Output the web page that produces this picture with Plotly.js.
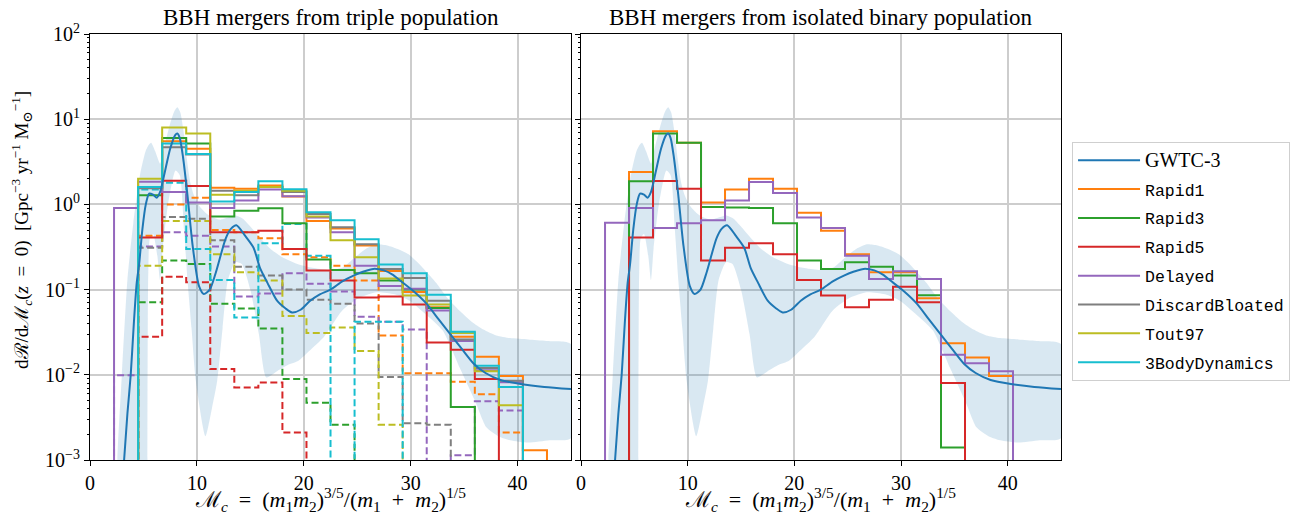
<!DOCTYPE html>
<html>
<head>
<meta charset="utf-8">
<script src="https://cdn.plot.ly/plotly-3.0.1.min.js"></script>
<style>
  html, body { margin: 0; padding: 0; background: #ffffff; }
  #chart { width: 1291px; height: 517px; }
</style>
</head>
<body>
<div id="chart"></div>
<script>
// ---------------- data ----------------
const binEdges = [0, 2.25, 4.5, 6.75, 9, 11.25, 13.5, 15.75, 18, 20.25, 22.5, 24.75, 27, 29.25, 31.5, 33.75, 36, 38.25, 40.5, 42.75, 45];

const seriesNames = ["Rapid1", "Rapid3", "Rapid5", "Delayed", "DiscardBloated", "Tout97", "3BodyDynamics"];

// triple population: solid histograms
const tripleRapid1   = [0, 0, 1.6, 5.5, 4.5, 1.57, 1.53, 1.67, 1.24, 0.64, 0.52, 0.33, 0.165, 0.094, 0.062, 0.028, 0.0163, 0.0097, 0.0013, 0];
const tripleRapid3   = [0, 0, 1.28, 6.0, 5.2, 0.72, 0.84, 0.9, 0.6, 0.225, 0.17, 0.156, 0.128, 0.1, 0.061, 0.0042, 0, 0, 0, 0];
const tripleRapid5   = [0, 0, 0.41, 1.9, 1.64, 0.47, 0.47, 0.49, 0.30, 0.168, 0.128, 0.081, 0.083, 0.067, 0.024, 0.0197, 0.0089, 0, 0, 0];
const tripleDelayed  = [0, 0.91, 1.85, 1.4, 1.05, 0.91, 1.11, 1.5, 1.25, 0.7, 0.47, 0.19, 0.11, 0.102, 0.057, 0.025, 0.0113, 0.0082, 0, 0];
const tripleDiscard  = [0, 0, 1.55, 4.7, 3.85, 1.45, 1.28, 1.6, 1.4, 0.77, 0.54, 0.34, 0.175, 0.137, 0.074, 0.026, 0.012, 0.0085, 0, 0];
const tripleTout97   = [0, 0, 2.0, 8.0, 6.8, 1.3, 1.45, 1.6, 1.45, 0.72, 0.38, 0.24, 0.135, 0.085, 0.067, 0.031, 0.011, 0.0044, 0, 0];
const triple3Body    = [0, 0, 1.6, 5.2, 3.9, 1.08, 1.4, 1.87, 1.51, 0.81, 0.65, 0.39, 0.197, 0.156, 0.087, 0.032, 0.0128, 0.0072, 0, 0];

// triple population: dashed histograms
const tripleSubRapid1  = [0, 0, 0.43, 1.0, 1.2, 0.5, 0.47, 0.4, 0.26, 0.24, 0.19, 0.128, 0.029, 0.0104, 0.0104, 0.0083, 0.0059, 0.0021, 0, 0];
const tripleSubRapid3  = [0, 0, 0.071, 0.22, 0.2, 0.068, 0.06, 0.035, 0.0089, 0.0047, 0.0026, 0, 0, 0, 0, 0, 0, 0, 0, 0];
const tripleSubRapid5  = [0, 0, 0.028, 0.142, 0.122, 0.0117, 0.0071, 0.0081, 0.0021, 0, 0, 0, 0, 0, 0, 0, 0, 0, 0, 0];
const tripleSubDelayed = [0, 0.0099, 0.32, 0.47, 0.43, 0.32, 0.083, 0.09, 0.156, 0.117, 0.095, 0.048, 0.042, 0.034, 0, 0.00114, 0.0049, 0.0038, 0, 0];
const tripleSubDiscard = [0, 0, 0.31, 0.71, 0.68, 0.38, 0.186, 0.146, 0.1, 0.076, 0.068, 0.04, 0.0094, 0.0027, 0.0026, 0, 0, 0, 0, 0];
const tripleSubTout97  = [0, 0, 0.19, 0.64, 0.64, 0.26, 0.16, 0.128, 0.049, 0.031, 0.036, 0.019, 0.0026, 0, 0, 0, 0, 0, 0, 0];
const tripleSub3Body   = [0, 0, 1.5, 1.8, 0.3, 0.13, 0.047, 0.35, 0.59, 0.25, 0, 0.042, 0.042, 0, 0, 0, 0, 0, 0, 0];

// isolated binary population
const isoRapid1  = [0, 0, 2.4, 7.2, 5.3, 1.05, 1.5, 2.0, 1.53, 0.8, 0.49, 0.26, 0.16, 0.16, 0.079, 0.0234, 0.016, 0.0097, 0, 0];
const isoRapid3  = [0, 0, 1.87, 6.8, 5.3, 0.93, 0.92, 0.91, 0.6, 0.22, 0.175, 0.21, 0.186, 0.146, 0.086, 0.0014, 0, 0, 0, 0];
const isoRapid5  = [0, 0, 0.41, 1.88, 1.53, 0.22, 0.31, 0.35, 0.26, 0.13, 0.085, 0.062, 0.076, 0.108, 0.071, 0.008, 0, 0, 0, 0];
const isoDelayed = [0, 0.61, 0.91, 0.53, 0.6, 0.65, 1.11, 1.83, 1.36, 0.7, 0.53, 0.25, 0.133, 0.164, 0.133, 0.0172, 0.0137, 0.011, 0, 0];

// GWTC-3 median and 90% band
const gwtcX = [3.19, 3.5, 3.81, 4.1, 4.37, 4.6, 4.9, 5.22, 5.53, 5.9, 6.25, 6.56, 7.0, 7.5, 7.97, 8.17, 8.4, 8.7, 9.12, 9.6, 10.2, 10.65, 11.2, 11.78, 12.7, 13.2, 13.7, 14.5, 15.3, 15.9, 16.6, 17.5, 18.3, 18.9, 19.7, 20.6, 21.5, 22.5, 23.6, 24.65, 25.6, 26.5, 27.5, 28.3, 29.0, 30.3, 31.5, 32.6, 33.7, 34.8, 35.9, 37.0, 38.4, 40.3, 42.5, 45.0];
const gwtcY = [0.001, 0.0035, 0.01, 0.04, 0.12, 0.2, 0.51, 1.0, 1.34, 1.3, 1.2, 1.4, 2.4, 4.5, 6.5, 6.8, 6.0, 3.6, 1.28, 0.33, 0.11, 0.089, 0.1, 0.16, 0.4, 0.52, 0.57, 0.43, 0.31, 0.18, 0.12, 0.074, 0.06, 0.054, 0.058, 0.074, 0.088, 0.1, 0.125, 0.146, 0.163, 0.175, 0.168, 0.15, 0.128, 0.095, 0.068, 0.045, 0.03, 0.02, 0.0135, 0.0105, 0.0087, 0.0078, 0.0072, 0.0068];

const bandUpperX = [2.4, 2.56, 2.98, 3.5, 4.05, 4.7, 5.2, 5.5, 5.72, 6.1, 6.56, 6.9, 7.5, 7.9, 8.17, 8.45, 8.8, 9.05, 9.35, 9.7, 10.2, 10.8, 11.5, 12.2, 12.9, 13.6, 14.3, 15.0, 15.8, 16.9, 18.0, 19.4, 20.8, 22.3, 23.6, 24.8, 25.8, 26.8, 27.8, 28.8, 29.8, 30.8, 31.7, 32.5, 33.5, 34.6, 35.7, 36.8, 38.0, 39.3, 41.0, 42.7, 45.0];
const bandUpperY = [0.00001, 0.001, 0.01, 0.13, 0.6, 2.3, 4.2, 5.0, 5.3, 4.2, 3.0, 4.5, 8.9, 12.5, 13.8, 12.0, 6.5, 3.5, 1.9, 1.3, 0.97, 0.8, 0.7, 0.66, 0.7, 0.74, 0.68, 0.55, 0.42, 0.3, 0.24, 0.2, 0.18, 0.17, 0.18, 0.24, 0.3, 0.34, 0.33, 0.3, 0.26, 0.2, 0.15, 0.115, 0.078, 0.056, 0.042, 0.034, 0.029, 0.027, 0.026, 0.025, 0.023];
const bandLowerX = [2.4, 5.3, 5.38, 5.45, 5.6, 5.9, 6.3, 6.56, 6.8, 7.3, 8.0, 8.4, 8.8, 9.12, 9.5, 9.9, 10.8, 11.4, 11.9, 12.4, 12.9, 13.6, 14.2, 15.0, 15.8, 16.5, 17.5, 18.5, 19.5, 20.5, 21.9, 23.6, 25.2, 26.8, 28.5, 29.9, 31.5, 33.0, 34.6, 36.0, 37.1, 38.2, 39.3, 41.0, 43.0, 45.0];
const bandLowerY = [0.00001, 0.00001, 0.001, 0.15, 0.4, 0.45, 0.25, 0.13, 0.3, 1.0, 2.5, 2.2, 0.5, 0.13, 0.035, 0.0085, 0.0019, 0.004, 0.0085, 0.035, 0.13, 0.21, 0.2, 0.1, 0.03, 0.0093, 0.011, 0.013, 0.0146, 0.019, 0.028, 0.057, 0.08, 0.093, 0.088, 0.074, 0.05, 0.033, 0.012, 0.005, 0.0024, 0.0019, 0.0017, 0.0016, 0.0017, 0.0018];

const yTickVals = [0.001, 0.01, 0.1, 1, 10, 100];
const yTickText = ["10<sup>−3</sup>", "10<sup>−2</sup>", "10<sup>−1</sup>", "10<sup>0</sup>", "10<sup>1</sup>", "10<sup>2</sup>"];
const xTickVals = [0, 10, 20, 30, 40];

// ---------------- drawing ----------------
const colors = {
  GWTC: "#1f77b4", Rapid1: "#ff7f0e", Rapid3: "#2ca02c", Rapid5: "#d62728",
  Delayed: "#9467bd", DiscardBloated: "#7f7f7f", Tout97: "#bcbd22", "3BodyDynamics": "#17becf"
};
const FLOOR = 1e-6;

function stepTrace(vals, color, dashed, xa, ya, name, showLegend, rank) {
  const x = [], y = [];
  for (let i = 0; i < vals.length; i++) {
    x.push(binEdges[i]);
    y.push(vals[i] > 0 ? vals[i] : FLOOR);
  }
  x.push(binEdges[binEdges.length - 1]);
  y.push(FLOOR);
  return {
    type: "scatter", mode: "lines", x: x, y: y, xaxis: xa, yaxis: ya,
    line: { shape: "hv", color: color, width: 2, dash: dashed ? "7px,3.5px" : "solid" },
    name: name, showlegend: showLegend, legendrank: rank, legendgroup: name,
    hoverinfo: "skip"
  };
}

function bandTrace(xa, ya) {
  const x = bandUpperX.concat(bandLowerX.slice().reverse());
  const y = bandUpperY.concat(bandLowerY.slice().reverse());
  return {
    type: "scatter", mode: "lines", x: x, y: y, xaxis: xa, yaxis: ya,
    fill: "toself", fillcolor: "rgba(31,119,180,0.17)",
    line: { width: 0, shape: "spline", smoothing: 0.6 },
    showlegend: false, hoverinfo: "skip"
  };
}

function curveTrace(xa, ya, showLegend) {
  return {
    type: "scatter", mode: "lines", x: gwtcX, y: gwtcY, xaxis: xa, yaxis: ya,
    line: { color: colors.GWTC, width: 2, shape: "spline", smoothing: 0.7 },
    name: '<span style="font-family:\'Liberation Serif\', serif; font-size:20px">GWTC-3</span>',
    showlegend: showLegend, legendrank: 1, legendgroup: "GWTC-3", hoverinfo: "skip"
  };
}

const tripleSolid = [tripleRapid1, tripleRapid3, tripleRapid5, tripleDelayed, tripleDiscard, tripleTout97, triple3Body];
const tripleDashed = [tripleSubRapid1, tripleSubRapid3, tripleSubRapid5, tripleSubDelayed, tripleSubDiscard, tripleSubTout97, tripleSub3Body];
const isoSolid = [isoRapid1, isoRapid3, isoRapid5, isoDelayed];

const traces = [];
traces.push(bandTrace("x", "y"));
traces.push(bandTrace("x2", "y2"));
tripleDashed.forEach((v, k) => traces.push(stepTrace(v, colors[seriesNames[k]], true, "x", "y", seriesNames[k] + " sub", false, 100)));
tripleSolid.forEach((v, k) => traces.push(stepTrace(v, colors[seriesNames[k]], false, "x", "y", seriesNames[k], true, k + 2)));
isoSolid.forEach((v, k) => traces.push(stepTrace(v, colors[seriesNames[k]], false, "x2", "y2", seriesNames[k], false, 100)));
traces.push(curveTrace("x", "y", true));
traces.push(curveTrace("x2", "y2", false));

const serif = "'Liberation Serif', 'DejaVu Serif', serif";
const axisCommon = {
  showline: true, mirror: true, linecolor: "#000", linewidth: 1,
  ticks: "outside", ticklen: 5, tickwidth: 1, tickcolor: "#000",
  showgrid: true, gridcolor: "#cdcdcd", gridwidth: 2, zeroline: false,
  tickfont: { family: serif, size: 20, color: "#000" }
};
const xAxis = (dom, anchor) => Object.assign({}, axisCommon, {
  domain: dom, anchor: anchor, range: [0, 45], tickvals: xTickVals, ticktext: xTickVals.map(String)
});
const yAxis = (anchor, labels) => Object.assign({}, axisCommon, {
  type: "log", range: [-3, 2], anchor: anchor, tickvals: yTickVals, ticktext: yTickText,
  showticklabels: labels,
  minor: { dtick: "D1", ticks: "outside", ticklen: 2.5, tickcolor: "#000", showgrid: false }
});

const sp = "\u2002";
const xTitle = "ℳ<sub><i>c</i></sub>" + sp + "=" + sp + "(<i>m</i><sub>1</sub><i>m</i><sub>2</sub>)<sup>3/5</sup>/(<i>m</i><sub>1</sub>" + sp + "+" + sp + "<i>m</i><sub>2</sub>)<sup>1/5</sup>";
const yTitle = "dℛ/dℳ<sub><i>c</i></sub>(<i>z</i>" + sp + "=" + sp + "0)" + sp + "[Gpc<sup>−3</sup> yr<sup>−1</sup> M<sub>⊙</sub><sup>−1</sup>]";

const layout = {
  width: 1291, height: 517,
  margin: { l: 90, r: 230, t: 34, b: 57, autoexpand: false },
  paper_bgcolor: "#fff", plot_bgcolor: "#fff",
  font: { family: serif, size: 18, color: "#000" },
  xaxis: xAxis([0, 0.4954], "y"),
  yaxis: yAxis("x", true),
  xaxis2: xAxis([0.5057, 1], "y2"),
  yaxis2: Object.assign(yAxis("x2", false), { matches: "y" }),
  showlegend: true,
  legend: {
    xref: "container", yref: "container",
    x: 0.8304, y: 0.7253, xanchor: "left", yanchor: "top",
    bgcolor: "#fff", bordercolor: "#cfcfcf", borderwidth: 1,
    font: { family: "'Liberation Mono', 'DejaVu Sans Mono', monospace", size: 16.5, color: "#000" },
    tracegroupgap: 4.4, itemwidth: 62
  },
  annotations: [
    { text: "BBH mergers from triple population", xref: "paper", yref: "paper", x: 0.2477, y: 1.0376, xanchor: "center", yanchor: "middle", showarrow: false, font: { family: serif, size: 23 } },
    { text: "BBH mergers from isolated binary population", xref: "paper", yref: "paper", x: 0.7528, y: 1.0376, xanchor: "center", yanchor: "middle", showarrow: false, font: { family: serif, size: 23 } },
    { text: xTitle, xref: "paper", yref: "paper", x: 0.2477, y: -0.092, xanchor: "center", yanchor: "middle", showarrow: false, font: { family: serif, size: 22 } },
    { text: xTitle, xref: "paper", yref: "paper", x: 0.7528, y: -0.092, xanchor: "center", yanchor: "middle", showarrow: false, font: { family: serif, size: 22 } },
    { text: yTitle, xref: "paper", yref: "paper", x: -0.07, y: 0.54, xanchor: "center", yanchor: "middle", textangle: -90, showarrow: false, font: { family: serif, size: 19 } }
  ]
};

Plotly.newPlot("chart", traces, layout, { staticPlot: true, displayModeBar: false });
</script>
</body>
</html>
